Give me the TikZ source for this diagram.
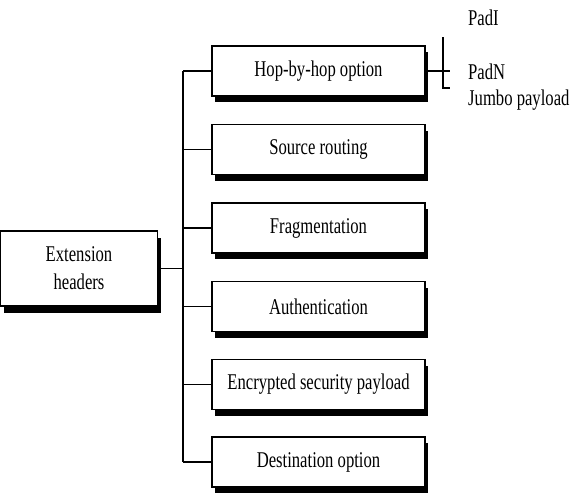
\documentclass[tikz,border=0pt]{standalone}
\usepackage{fontspec}
\setmainfont{Liberation Serif}[FakeStretch=0.74]
\usetikzlibrary{shadows}
\begin{document}
\begin{tikzpicture}[x=1pt,y=-1pt,
  line/.style={line width=1.3pt, draw=black},
  hdrbox/.style={draw=black, line width=1.2pt, fill=white,
    minimum width=213pt, minimum height=50pt, inner sep=0pt,
    font=\fontsize{22.5}{25}\selectfont,
    drop shadow={shadow xshift=3pt, shadow yshift=-6pt, fill=black, opacity=1}},
  optlabel/.style={anchor=west, inner sep=0pt, font=\fontsize{22.5}{25}\selectfont}]
\useasboundingbox (0,0) rectangle (576,493);

% root box
\node[draw=black, line width=1.2pt, fill=white, minimum width=157pt, minimum height=75pt,
  inner sep=0pt, align=center, font=\fontsize{22.5}{28}\selectfont,
  drop shadow={shadow xshift=3pt, shadow yshift=-7pt, fill=black, opacity=1}]
  (ext) at (79,268.5) {Extension\\headers};

% the six extension header types
\node[hdrbox] (hop) at (318.5,71)  {Hop-by-hop option};
\node[hdrbox] (src) at (318.5,149.5) {Source routing};
\node[hdrbox] (frg) at (318.5,228) {Fragmentation};
\node[hdrbox] (aut) at (318.5,306.5) {Authentication};
\node[hdrbox] (esp) at (318.5,384.5) {Encrypted security payload};
\node[hdrbox] (dst) at (318.5,462) {Destination option};

% tree connectors
\coordinate (tr) at (183,0);
\draw[line] (ext.east) -- (ext.east -| tr);
\draw[line] (hop.west -| tr) -- (dst.west -| tr);
\foreach \b in {hop,src,frg,aut,esp,dst}
  \draw[line] (\b.west -| tr) -- (\b.west);

% hop-by-hop options
\coordinate (bt) at (443,37);
\coordinate (bb) at (443,88);
\coordinate (bx) at (450,0);
\draw[line] (hop.east) -- (hop.east -| bx);
\draw[line] (bt) -- (bb) -- (bb -| bx);

\node[optlabel] (p1) at (468,18)  {PadI};
\node[optlabel] (pn) at (468,72)  {PadN};
\node[optlabel] (jp) at (468,100) {Jumbo payload};
\end{tikzpicture}
\end{document}
